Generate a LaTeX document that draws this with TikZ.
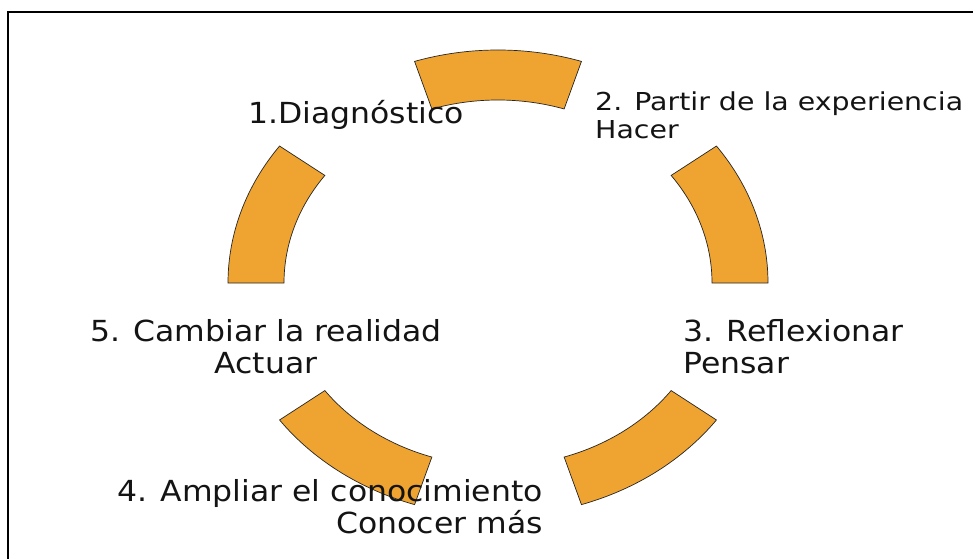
\documentclass[tikz,border=0pt]{standalone}
\usepackage{fontspec}
\setmainfont{DejaVu Sans}
\newfontfamily\lblfont[FakeStretch=1.085]{DejaVu Sans}
\newfontfamily\smlfont[FakeStretch=1.15]{DejaVu Sans}
\definecolor{segfill}{RGB}{239,163,48}
\definecolor{txt}{RGB}{20,20,20}
\tikzset{
  segstyle/.style={fill=segfill, draw=black!85, line width=0.7pt, line join=miter},
  biglbl/.style={inner sep=0pt, text=txt, font=\lblfont\fontsize{29}{31.5}\selectfont},
  smllbl/.style={inner sep=0pt, text=txt, font=\smlfont\fontsize{24.7}{28}\selectfont},
}
\newcommand\cycseg[2]{%
  \draw[segstyle] (#1:270pt and 233pt) arc[start angle=#1, end angle=#2, x radius=270pt, y radius=233pt]
    -- (#2:214pt and 183pt) arc[start angle=#2, end angle=#1, x radius=214pt, y radius=183pt] -- cycle;}
\begin{document}
\begin{tikzpicture}[x=1pt,y=1pt]
\useasboundingbox (0,0) rectangle (973,558);
\fill[white] (0,0) rectangle (973,558);
\draw[line width=2pt] (8,-10) -- (8,545.5) -- (990,545.5);
\begin{scope}[shift={(498,275)}]
  \cycseg{72}{108}
  \cycseg{0}{36}
  \cycseg{-72}{-36}
  \cycseg{-144}{-108}
  \cycseg{144}{180}
\end{scope}
\node[biglbl, anchor=base west] (l1) at (248,434) {1.Diagnóstico};
\node[smllbl, anchor=base west, align=left] (l2) at (595,420) {2. Partir de la experiencia\\Hacer};
\node[biglbl, anchor=base west, align=left] (l3) at (683,185) {3. Reflexionar\\Pensar};
\node[biglbl, anchor=base east, align=right] (l4) at (543,25) {4. Ampliar el conocimiento\\Conocer más};
\node[biglbl, anchor=base, align=center] (l5) at (266,185) {5. Cambiar la realidad\\Actuar};
\end{tikzpicture}
\end{document}
